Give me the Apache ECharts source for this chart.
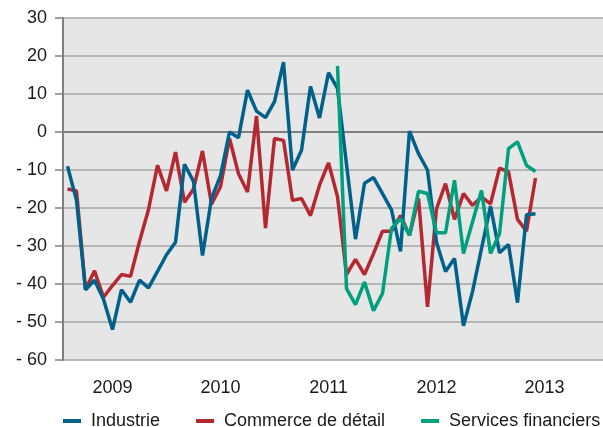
<!DOCTYPE html>
<html>
<head>
<meta charset="utf-8">
<script src="https://cdn.jsdelivr.net/npm/echarts@6/dist/echarts.min.js"></script>
<style>
  html, body { margin: 0; padding: 0; background: #fff; }
  #chart { width: 603px; height: 427px; }
</style>
</head>
<body>
<div id="chart"></div>
<script>
// mois de janvier 2009 à décembre 2013
var years = ['2009', '2010', '2011', '2012', '2013'];
var months = [];
years.forEach(function (y) {
  for (var m = 1; m <= 12; m++) months.push(y + '-' + (m < 10 ? '0' + m : m));
});

// Industrie : janv. 2009 -> mai 2013
var industrie = [
  -9, -18, -41.5, -39, -44, -52, -41.5, -44.8, -39, -41, -36.7, -32.3,
  -29, -8.5, -13, -32.5, -17.5, -11.5, 0, -1.5, 11, 5.5, 3.8, 8,
  18.4, -10, -4.8, 12, 3.7, 15.6, 11.5, -8.5, -28.2, -13.5, -12, -16.2,
  -20.5, -31.4, 0.2, -5.7, -10, -29, -36.7, -33.3, -51, -42, -30.7, -19.5,
  -31.8, -29.6, -44.9, -21.8, -21.5
];

// Commerce de détail : janv. 2009 -> mai 2013
var commerce = [
  -15, -15.5, -41.5, -36.5, -43.5, -40.4, -37.5, -38, -28.8, -20.4, -8.8, -15.5,
  -5.3, -18.5, -15, -5, -19, -14.4, -1.7, -11, -15.8, 4.2, -25.3, -1.7,
  -2.2, -18, -17.5, -22, -14, -8.1, -17, -37.5, -33.5, -37.5, -32, -26.1,
  -26.1, -22, -27.2, -17.5, -46, -20.2, -13.6, -23, -16.2, -19.3, -17.1, -18.9,
  -9.5, -10.5, -23, -26.1, -12.1
];

// Services financiers : juil. 2011 -> mai 2013
var servicesStart = 30;
var services = [
  17.4, -41.2, -45.4, -39.5, -47, -42.5,
  -25.4, -22.8, -27.2, -15.6, -16.2, -26.5, -26.5, -12.7, -32, -23.7, -15.4, -32,
  -26.8, -4.4, -2.6, -8.8, -10.4
];

function pad(arr, start) {
  var out = [];
  for (var i = 0; i < months.length; i++) {
    var v = arr[i - start];
    out.push(v === undefined ? null : v);
  }
  return out;
}

var chart = echarts.init(document.getElementById('chart'));

// la ligne du zéro est plus foncée
var gridColors = ['#a6a6a6', '#a6a6a6', '#a6a6a6', '#a6a6a6', '#a6a6a6', '#a6a6a6',
  '#6e6e6e', '#a6a6a6', '#a6a6a6', '#a6a6a6'];

var option = {
  animation: false,
  textStyle: { fontFamily: 'Liberation Sans, Arial, sans-serif' },
  grid: {
    left: 63, right: 0, top: 18, bottom: 67,
    show: true, backgroundColor: '#e6e6e6', borderWidth: 0
  },
  legend: {
    left: 63, top: 412, width: 600,
    padding: 0,
    itemWidth: 18, itemHeight: 4, itemGap: 36,
    icon: 'rect',
    textStyle: { fontSize: 18, color: '#1a1a1a', padding: [0, 0, 0, 5] },
    data: ['Industrie', 'Commerce de détail', 'Services financiers']
  },
  xAxis: {
    type: 'category',
    data: months,
    boundaryGap: true,
    axisLine: { lineStyle: { color: '#7f7f7f', width: 2 } },
    axisTick: {
      length: 9,
      interval: function (i) { return i % 12 === 0 && i > 0; },
      lineStyle: { color: '#7f7f7f', width: 2 }
    },
    axisLabel: {
      interval: function (i) { return i % 12 === 5; },
      formatter: function (v) { return v.slice(0, 4); },
      fontSize: 18, color: '#1a1a1a', margin: 19
    },
    splitLine: { show: false }
  },
  yAxis: {
    type: 'value',
    min: -60, max: 30, interval: 10,
    axisLine: { show: true, lineStyle: { color: '#7f7f7f', width: 2 } },
    axisTick: { show: true, length: 8, lineStyle: { color: '#7f7f7f', width: 1.5 } },
    axisLabel: {
      fontSize: 18, color: '#1a1a1a', margin: 16,
      formatter: function (v) { return v < 0 ? '- ' + (-v) : String(v); }
    },
    splitLine: { lineStyle: { color: gridColors, width: 1.5 } }
  },
  series: [
    {
      name: 'Industrie', type: 'line', data: pad(industrie, 0),
      symbol: 'none', color: '#00618a',
      lineStyle: { width: 3.5 }, z: 3
    },
    {
      name: 'Commerce de détail', type: 'line', data: pad(commerce, 0),
      symbol: 'none', color: '#b42832',
      lineStyle: { width: 3.5 }, z: 2
    },
    {
      name: 'Services financiers', type: 'line', data: pad(services, servicesStart),
      symbol: 'none', color: '#00a07e',
      lineStyle: { width: 3.5 }, z: 4
    }
  ]
};

chart.setOption(option);
</script>
</body>
</html>
